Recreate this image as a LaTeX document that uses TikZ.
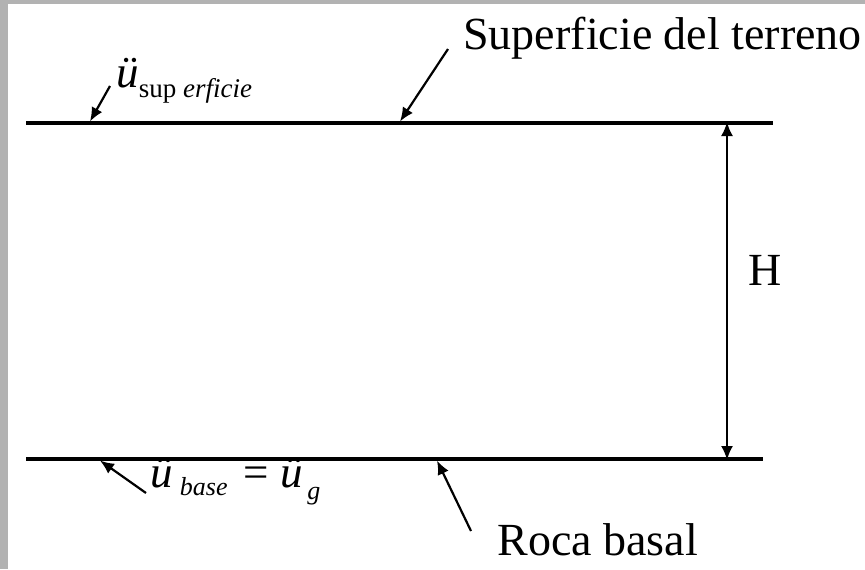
\documentclass[tikz,border=0pt]{standalone}
\usepackage{fontspec}
\setmainfont{Liberation Serif}
\usetikzlibrary{positioning,arrows.meta}
\definecolor{frame}{HTML}{B2B2B2}

\begin{document}
\begin{tikzpicture}[
    x=0.5pt, y=-0.5pt,
    ground/.style={line width=1.6pt, draw=black},
    ptr/.style={-{Latex[length=7pt,width=6pt]}, line width=1.1pt},
    dim/.style={{Latex[length=7pt,width=6pt]}-{Latex[length=7pt,width=6pt]}, line width=1.1pt},
    lbl/.style={inner sep=0pt, font=\fontsize{23}{26}\selectfont},
    var/.style={inner sep=0pt, font=\fontsize{22.5}{26}\selectfont\itshape}
]
    \useasboundingbox (0,0) rectangle (865,569);
    \fill[frame] (0,0) rectangle (865,569);
    \fill[white] (8,4) rectangle (865,569);

    % surface and bedrock
    \coordinate (topL) at (26,123);
    \coordinate (topR) at (773,123);
    \coordinate (botL) at (26,459);
    \coordinate (botR) at (763,459);
    \draw[ground] (topL) -- (topR);
    \draw[ground] (botL) -- (botR);

    % labels
    \node[lbl, anchor=base west] (terreno) at (463,49) {Superficie del terreno};
    \node[lbl, anchor=base west] (roca) at (497,555) {Roca basal};
    \node[lbl] (altura) at (765,270) {H};
    \node[var, anchor=base west] (usup) at (116,87)
        {ü\raisebox{-5pt}{\fontsize{13.5}{16}\selectfont\upshape sup \itshape erficie}};
    \node[var, anchor=base west] (ubase) at (150,487)
        {ü\hspace{3.5pt}\raisebox{-4pt}{\fontsize{13}{16}\selectfont base}\hspace{8pt}{\upshape =}\hspace{6pt}ü\hspace{2pt}\raisebox{-6pt}{\fontsize{13}{16}\selectfont g}};

    % pointers
    \coordinate (supTail) at (110,86);
    \coordinate (supTip) at (90,121.5);
    \coordinate (terTail) at (448,49);
    \coordinate (terTip) at (400,121.5);
    \coordinate (baseTail) at (146,493);
    \coordinate (baseTip) at (100,460.5);
    \coordinate (rocaTail) at (471,531);
    \coordinate (rocaTip) at (437,460.5);
    \draw[ptr] (supTail) -- (supTip);
    \draw[ptr] (terTail) -- (terTip);
    \draw[ptr] (baseTail) -- (baseTip);
    \draw[ptr] (rocaTail) -- (rocaTip);

    % thickness H
    \coordinate (dimTop) at (727,122);
    \coordinate (dimBot) at (727,460);
    \draw[dim] (dimTop) -- (dimBot);
\end{tikzpicture}
\end{document}
